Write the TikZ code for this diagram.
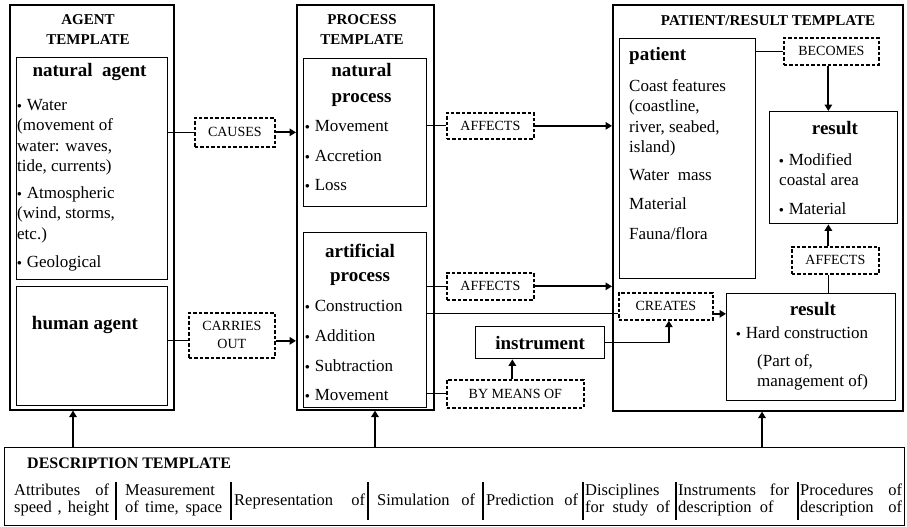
\documentclass[tikz,border=0pt]{standalone}
\usepackage{fontspec}
\setmainfont{Liberation Serif}
\usetikzlibrary{arrows.meta,calc}
\newcommand\bul{\raisebox{1.5pt}{\fontsize{9}{9}\selectfont$\bullet$}\hspace{5pt}}
\newcommand\bodyf{\fontsize{17}{20.5}\selectfont}
\newcommand\headf{\fontsize{19}{25}\selectfont\bfseries}
\newcommand\tmplf{\fontsize{15}{20}\selectfont\bfseries}
\newcommand\lblf{\fontsize{14}{18}\selectfont}
\newcommand\descf{\fontsize{16.5}{17}\selectfont}
\tikzset{
 outer/.style={draw, line width=1.6pt, inner sep=0, anchor=north west},
 inner/.style={draw, line width=1.4pt, inner sep=0, anchor=north west},
 dbox/.style={draw, line width=1.7pt, dash pattern=on 3.5pt off 2pt, inner sep=0, anchor=north west, font=\lblf, align=center},
 tl/.style={inner sep=0, anchor=base west, font=\bodyf},
 tc/.style={inner sep=0, anchor=base, font=\bodyf},
 hd/.style={inner sep=0, anchor=base, font=\headf},
 hdl/.style={inner sep=0, anchor=base west, font=\headf},
 tp/.style={inner sep=0, anchor=base, font=\tmplf},
 dc/.style={inner sep=0, anchor=base west, font=\descf},
 conn/.style={line width=1pt},
 arr/.style={line width=2pt, -{Triangle[length=6.5pt,width=7.5pt]}},
 divl/.style={line width=1.8pt},
}
\begin{document}
\begin{tikzpicture}[x=1pt,y=-1pt]
\useasboundingbox (0,0) rectangle (907,527);
% outer templates
\node[outer, minimum width=164pt, minimum height=405pt] (agentT) at (9,4) {};
\node[outer, minimum width=137pt, minimum height=405pt] (procT) at (296,4) {};
\node[outer, minimum width=290pt, minimum height=406pt] (patT) at (612,4) {};
\node[outer, line width=1.3pt, minimum width=900pt, minimum height=78pt] (desc) at (4,447) {};
% inner boxes
\node[inner, minimum width=151pt, minimum height=222pt] (natag) at (16,57) {};
\node[inner, minimum width=151pt, minimum height=119pt] (humag) at (16,286) {};
\node[inner, minimum width=123pt, minimum height=148pt] (natpr) at (303,58) {};
\node[inner, minimum width=123pt, minimum height=175pt] (artpr) at (303,232) {};
\node[inner, minimum width=136pt, minimum height=240pt] (patient) at (619,38) {};
\node[inner, minimum width=128pt, minimum height=112pt] (res1) at (769,111) {};
\node[inner, minimum width=169pt, minimum height=107pt] (res2) at (726,293) {};
\node[inner, minimum width=129pt, minimum height=32pt, font=\headf] (instr) at (475,326) {instrument};
% dashed relation boxes
\node[dbox, minimum width=80pt, minimum height=29pt] (causes) at (194,117) {CAUSES};
\node[dbox, minimum width=86pt, minimum height=45pt] (carries) at (188,312) {CARRIES\\OUT};
\node[dbox, minimum width=87pt, minimum height=26pt] (aff1) at (446,112) {AFFECTS};
\node[dbox, minimum width=87pt, minimum height=27pt] (aff2) at (446,272) {AFFECTS};
\node[dbox, minimum width=137pt, minimum height=28pt] (bymeans) at (446,379) {BY MEANS OF};
\node[dbox, minimum width=95pt, minimum height=27pt] (becomes) at (783,37) {BECOMES};
\node[dbox, minimum width=87pt, minimum height=27pt] (aff3) at (791,246) {AFFECTS};
\node[dbox, minimum width=94pt, minimum height=27pt] (creates) at (618,292) {CREATES};
% agent texts
\node[tp] (agT) at (88,25) {\parbox[t]{150pt}{\centering AGENT\\TEMPLATE}};
\node[hd] (natagT) at (89.5,77) {natural\ \ agent};
\node[tl] (ag1) at (17,110) {\parbox[t]{150pt}{\raggedright\bul Water\\(movement of\\water: waves,\\tide, currents)}};
\node[tl] (ag2) at (17,198) {\parbox[t]{150pt}{\raggedright\bul Atmospheric\\(wind, storms,\\etc.)}};
\node[tl] (ag3) at (17,267) {\bul Geological};
\node[hd] (humagT) at (85,329) {human agent};
% process texts
\node[tp] (prT) at (362,25) {\parbox[t]{130pt}{\centering PROCESS\\TEMPLATE}};
\node[hd] (natprT) at (361.5,77) {\parbox[t]{120pt}{\centering natural\\process}};
\node[tl] (np1) at (305,131) {\bul Movement};
\node[tl] (np2) at (305,161) {\bul Accretion};
\node[tl] (np3) at (305,190) {\bul Loss};
\node[hd] (artprT) at (360,257) {\parbox[t]{120pt}{\centering artificial\\[-1pt]process}};
\node[tl] (ap1) at (305,311) {\bul Construction};
\node[tl] (ap2) at (305,341) {\bul Addition};
\node[tl] (ap3) at (305,371) {\bul Subtraction};
\node[tl] (ap4) at (305,400) {\bul Movement};
% patient / result texts
\node[tp] (paT) at (768,26) {PATIENT/RESULT TEMPLATE};
\node[hdl] (patT2) at (629,60) {patient};
\node[tl] (pa1) at (629,91) {\parbox[t]{125pt}{\raggedright Coast features\\(coastline,\\river, seabed,\\island)}};
\node[tl] (pa2) at (629,180) {Water\ \ mass};
\node[tl] (pa3) at (629,209) {Material};
\node[tl] (pa4) at (629,239) {Fauna/flora};
\node[hd] (r1T) at (835,134) {result};
\node[tl] (r1a) at (779,165) {\parbox[t]{115pt}{\raggedright\bul Modified\\coastal area}};
\node[tl] (r1b) at (779,214) {\bul Material};
\node[hd] (r2T) at (813,315) {result};
\node[tl] (r2a) at (736,338) {\bul Hard construction};
\node[tl] (r2b) at (757,366) {\parbox[t]{130pt}{\raggedright (Part of,\\management of)}};
% description texts
\node[inner sep=0, anchor=base west, font=\fontsize{16}{18}\selectfont\bfseries] (dT) at (27,468) {DESCRIPTION TEMPLATE};
\node[dc] (c1) at (14,495) {\parbox[t]{95pt}{\makebox[95pt][s]{Attributes of}\\\makebox[95pt][s]{speed , height}}};
\node[dc] (c2) at (125,495) {\parbox[t]{97pt}{Measurement\\\makebox[97pt][s]{of time, space}}};
\node[dc] (c3) at (234,505) {\makebox[131pt][s]{Representation of}};
\node[dc] (c4) at (377,505) {\makebox[98pt][s]{Simulation of}};
\node[dc] (c5) at (486,505) {\makebox[92pt][s]{Prediction of}};
\node[dc] (c6) at (585,495) {\parbox[t]{85pt}{Disciplines\\\makebox[85pt][s]{for study of}}};
\node[dc] (c7) at (678,495) {\parbox[t]{111pt}{\makebox[111pt][s]{Instruments for}\\description\ \ of}};
\node[dc] (c8) at (800,495) {\parbox[t]{102pt}{\makebox[102pt][s]{Procedures of}\\\makebox[102pt][s]{description of}}};
\foreach \xd in {116,231,368,483,583,676,798} \draw[divl] (\xd,482) -- (\xd,520);
% connectors
\draw[conn] (natag.east |- causes.west) -- (causes.west);
\draw[arr] (causes.east) -- (causes.east -| procT.west);
\coordinate (cw) at ([yshift=-5.5pt]carries.west);
\coordinate (ce) at ([yshift=-5.5pt]carries.east);
\draw[conn] (cw -| humag.east) -- (cw);
\draw[arr] (ce) -- (ce -| procT.west);
\draw[conn] (natpr.east |- aff1.west) -- (aff1.west);
\draw[arr] (aff1.east) -- (aff1.east -| patT.west);
\draw[conn] (artpr.east |- aff2.west) -- (aff2.west);
\draw[arr] (aff2.east) -- (aff2.east -| patT.west);
\coordinate (crw) at ([yshift=-7.5pt]creates.west);
\coordinate (cre) at ([yshift=-7.5pt]creates.east);
\draw[conn] (crw -| artpr.east) -- (crw);
\draw[arr] (cre) -- (cre -| res2.west);
\coordinate (crs) at ([xshift=3pt]creates.south);
\draw[conn] (instr.east) -- (instr.east -| crs);
\draw[arr] (instr.east -| crs) -- (crs);
\draw[conn] (artpr.east |- bymeans.west) -- (bymeans.west);
\coordinate (bmn) at ([xshift=-3pt]bymeans.north);
\draw[arr] (bmn) -- (bmn |- instr.south);
\draw[conn] (patient.east |- becomes.west) -- (becomes.west);
\coordinate (bs) at ([xshift=-3pt]becomes.south);
\draw[arr] (bs) -- (bs |- res1.north);
\coordinate (a3s) at ([xshift=-7pt]aff3.south);
\coordinate (a3n) at ([xshift=-7pt]aff3.north);
\draw[conn] (a3s |- res2.north) -- (a3s);
\draw[arr] (a3n) -- (a3n |- res1.south);
\coordinate (xa) at (73,0);
\coordinate (xb) at (375,0);
\coordinate (xc) at (762,0);
\draw[arr] (desc.north -| xa) -- (agentT.south -| xa);
\draw[arr] (desc.north -| xb) -- (procT.south -| xb);
\draw[arr] (desc.north -| xc) -- (patT.south -| xc);
\end{tikzpicture}
\end{document}
